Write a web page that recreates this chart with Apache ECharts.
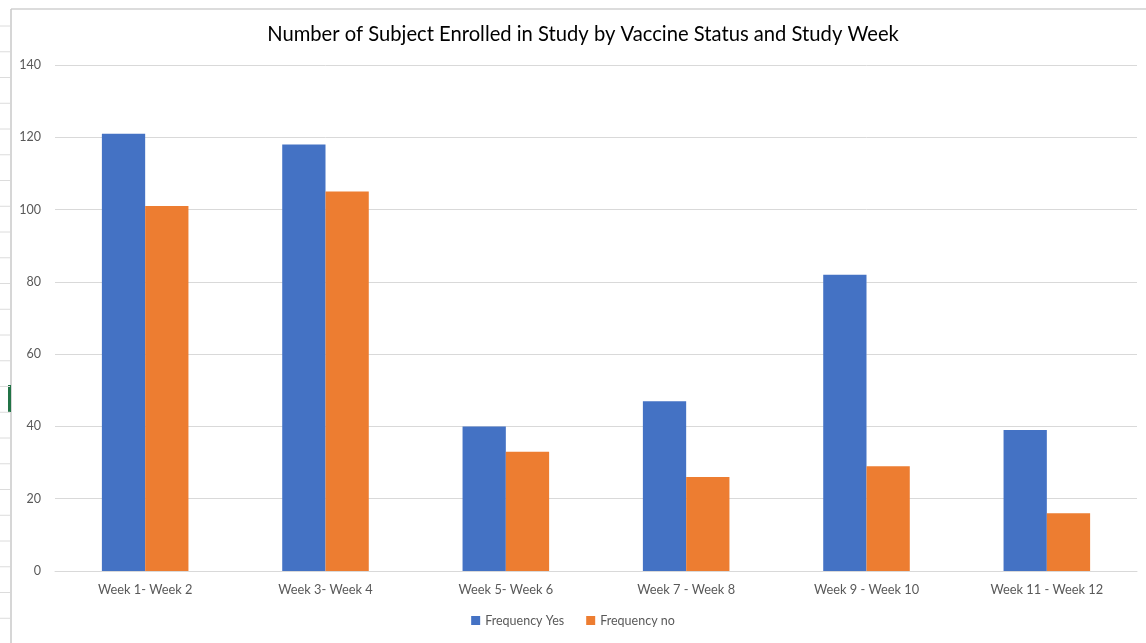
<!DOCTYPE html>
<html>
<head>
<meta charset="utf-8">
<script src="https://cdn.jsdelivr.net/npm/echarts@6/dist/echarts.min.js"></script>
<style>
  html, body { margin: 0; padding: 0; background: #ffffff; }
  #chart { width: 1146px; height: 643px; }
</style>
</head>
<body>
<div id="chart"></div>
<script>
// Enrolment counts per two-week study window
const categories = ['Week 1- Week 2', 'Week 3- Week 4', 'Week 5- Week 6', 'Week 7 - Week 8', 'Week 9 - Week 10', 'Week 11 - Week 12'];
const frequencyYes = [121, 118, 40, 47, 82, 39];
const frequencyNo = [101, 105, 33, 26, 29, 16];
const seriesNames = ['Frequency Yes', 'Frequency no'];
const titleText = 'Number of Subject Enrolled in Study by Vaccine Status and Study Week';

const FONT = 'Lato, "Open Sans", sans-serif';

// Spreadsheet row guides along the left edge
const rowTicks = [];
for (let y = 26; y < 643; y += 25.75) {
  rowTicks.push({
    type: 'line', silent: true,
    shape: { x1: 0, y1: y, x2: 10, y2: y },
    style: { stroke: '#dcdcdc', lineWidth: 1 }
  });
}

const chart = echarts.init(document.getElementById('chart'), null, { renderer: 'canvas' });
chart.setOption({
  backgroundColor: '#ffffff',
  animation: false,
  title: {
    text: titleText,
    left: 578, top: 19, textAlign: 'center',
    textStyle: { fontFamily: FONT, fontSize: 20.2, fontWeight: 'normal', color: '#000000' }
  },
  legend: {
    data: seriesNames,
    bottom: 11, left: 'center',
    itemWidth: 9, itemHeight: 9, itemGap: 22,
    icon: 'rect',
    textStyle: { fontFamily: FONT, fontSize: 12.5, color: '#595959' }
  },
  grid: { left: 55, right: 9, top: 65, bottom: 72, containLabel: false },
  xAxis: {
    type: 'category',
    data: categories,
    axisLine: { lineStyle: { color: '#d9d9d9', width: 1 } },
    axisTick: { show: false },
    axisLabel: { fontFamily: FONT, fontSize: 12.8, color: '#595959', margin: 12 }
  },
  yAxis: {
    type: 'value',
    min: 0, max: 140, interval: 20,
    axisLine: { show: false },
    axisTick: { show: false },
    axisLabel: { fontFamily: FONT, fontSize: 12.5, color: '#595959', margin: 14 },
    splitLine: { lineStyle: { color: '#d9d9d9', width: 1 } }
  },
  series: [
    {
      name: seriesNames[0], type: 'bar', data: frequencyYes,
      barWidth: '24%', barGap: '0%',
      itemStyle: { color: '#4472c4' }
    },
    {
      name: seriesNames[1], type: 'bar', data: frequencyNo,
      barWidth: '24%', barGap: '0%',
      itemStyle: { color: '#ed7d31' }
    }
  ],
  graphic: [
    // chart frame edges
    { type: 'line', silent: true, shape: { x1: 11, y1: 9, x2: 1146, y2: 9 }, style: { stroke: '#d0d0d0', lineWidth: 1.5 } },
    { type: 'line', silent: true, shape: { x1: 11, y1: 9, x2: 11, y2: 643 }, style: { stroke: '#c8c8c8', lineWidth: 1.5 } },
    // active row marker
    { type: 'rect', silent: true, shape: { x: 8, y: 385, width: 3, height: 27 }, style: { fill: '#217346' } }
  ].concat(rowTicks)
});
</script>
</body>
</html>
